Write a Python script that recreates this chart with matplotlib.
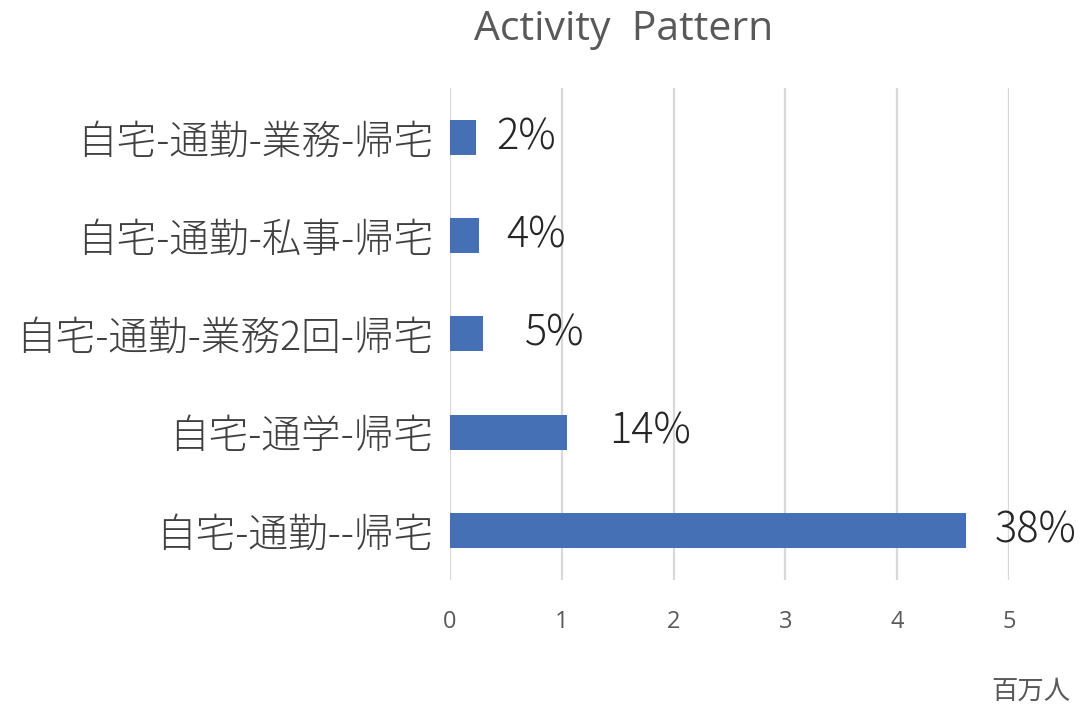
import matplotlib
matplotlib.use("Agg")
import matplotlib.pyplot as plt

plt.rcParams['font.family'] = ['Noto Sans CJK JP', 'DejaVu Sans']

# Activity chains (bottom to top) and their volumes in millions of people
categories = ["自宅-通勤--帰宅", "自宅-通学-帰宅", "自宅-通勤-業務2回-帰宅",
              "自宅-通勤-私事-帰宅", "自宅-通勤-業務-帰宅"]
volumes = [4.61, 1.05, 0.30, 0.26, 0.23]
share_labels = ["38%", "14%", "5%", "4%", "2%"]
x_ticks = [0, 1, 2, 3, 4, 5]

# gap (in points) between each bar end and its share label
label_gaps_pt = [21, 30, 30, 20, 15]

bar_color = "#4670B5"
grid_color = "#D9D9D9"
text_dark = "#404040"
text_gray = "#595959"

fig = plt.figure(figsize=(10.84, 7.06), dpi=100)
ax = fig.add_axes([0.415, 0.179, 0.516, 0.696])

ypos = list(range(len(categories)))
ax.barh(ypos, volumes, height=0.356, color=bar_color, zorder=3)

ax.set_xlim(0, 5)
ax.set_ylim(-0.5, len(categories) - 0.5)
ax.set_xticks(x_ticks)
ax.set_xticklabels([str(t) for t in x_ticks], family=['Open Sans', 'DejaVu Sans'],
                   fontsize=17, color=text_gray)
ax.set_yticks(ypos)
ax.set_yticklabels(categories, fontsize=28.5, color=text_dark, fontweight='light')
ax.tick_params(axis='x', length=0, pad=22)
ax.tick_params(axis='y', length=0, pad=12)

ax.grid(axis='x', color=grid_color, linewidth=1.6, zorder=0)
ax.grid(axis='y', visible=False)
for s in ax.spines.values():
    s.set_visible(False)

for y, v, lab, gap in zip(ypos, volumes, share_labels, label_gaps_pt):
    ax.annotate(lab, xy=(v, y), xytext=(gap, 0), textcoords='offset points',
                ha='left', va='center', fontsize=30, color="#262626",
                fontweight='light')

fig.text(0.575, 0.958, "Activity  Pattern", ha='center', va='center',
         fontsize=29.5, color=text_gray, family=['Open Sans', 'DejaVu Sans'])
fig.text(0.987, 0.002, "百万人", ha='right', va='bottom', fontsize=19, color=text_gray)

fig.savefig("out.png", dpi=100)
